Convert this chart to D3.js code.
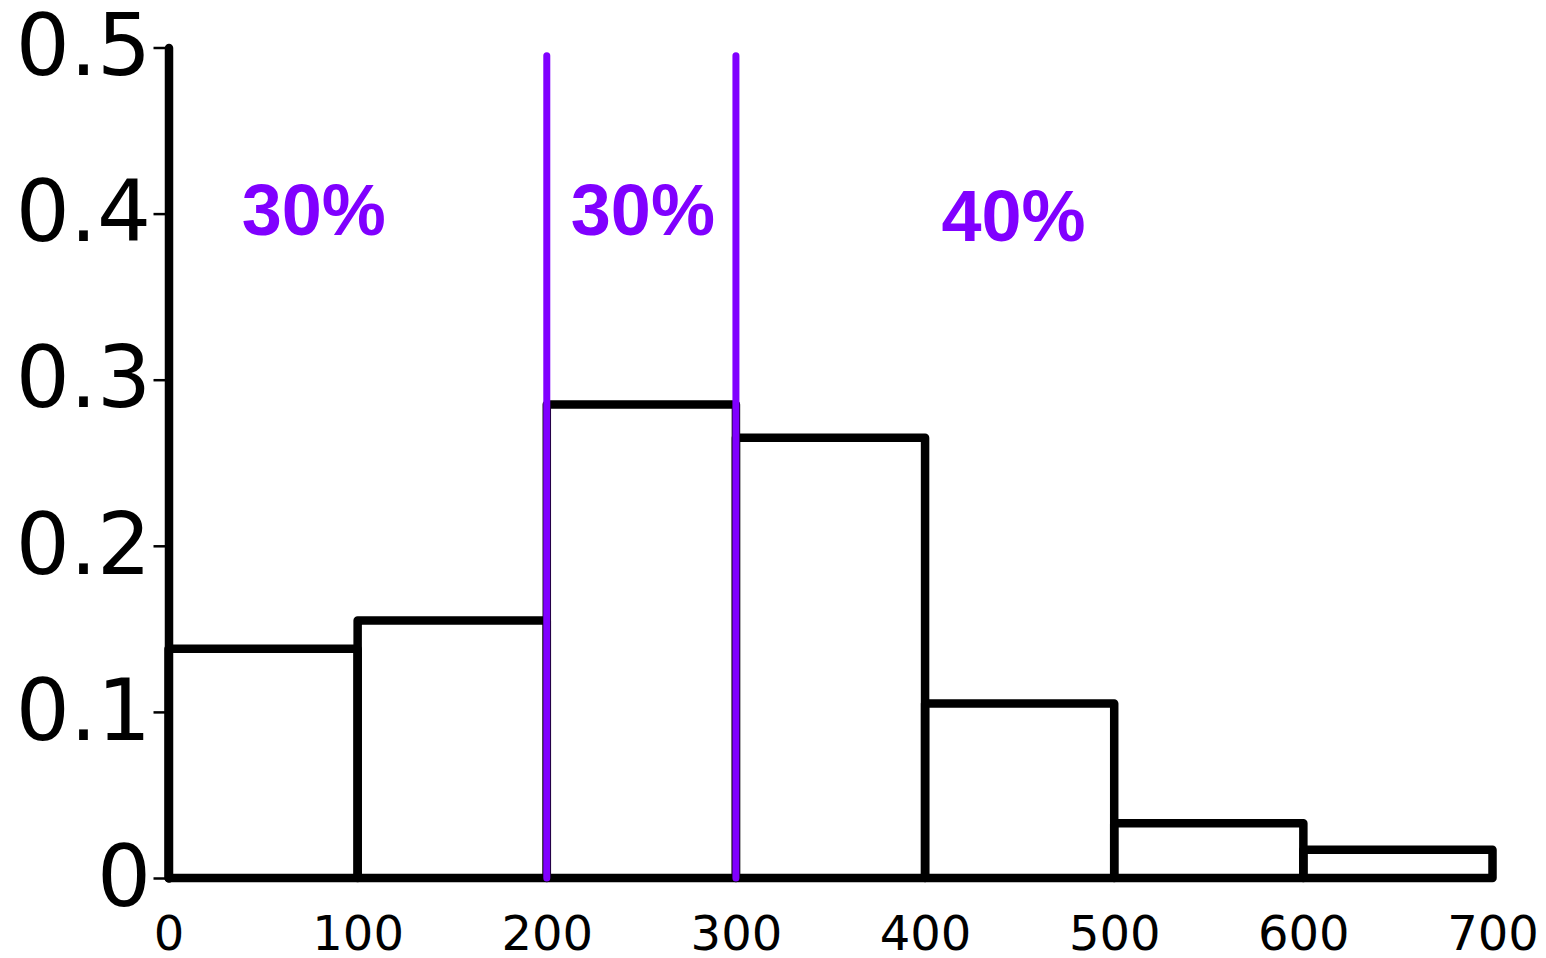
<!DOCTYPE html>
<html>
<head>
<meta charset="utf-8">
<script src="https://cdn.jsdelivr.net/npm/d3@7"></script>
<style>
  html, body { margin: 0; padding: 0; background: #fff; }
  svg { display: block; }
</style>
</head>
<body>
<svg id="chart" width="1546" height="958"></svg>
<script>
// ---- data ----
const binStarts = [0, 100, 200, 300, 400, 500, 600];
const binEnds   = [100, 200, 300, 400, 500, 600, 700];
const proportions = [0.138, 0.155, 0.285, 0.265, 0.105, 0.033, 0.017];
const cutPoints = [200, 300];
const cutTop = 0.495;
const shareLabels = ["30%", "30%", "40%"];
const shareLabelX = [76.8, 250.8, 446.8];
const shareLabelY = [0.403, 0.403, 0.399];
const xTicks = [0, 100, 200, 300, 400, 500, 600, 700];
const yTicks = [0, 0.1, 0.2, 0.3, 0.4, 0.5];

// ---- layout ----
const svg = d3.select("#chart");
const x = d3.scaleLinear().domain([0, 700]).range([168.5, 1492.5]);
const y = d3.scaleLinear().domain([0, 0.5]).range([878, 47.5]);
const purple = "#8000ff";

const bins = binStarts.map((s, i) => ({ x0: s, x1: binEnds[i], v: proportions[i] }));

// bars
svg.append("g")
  .selectAll("rect")
  .data(bins)
  .join("rect")
  .attr("x", d => x(d.x0))
  .attr("y", d => y(d.v))
  .attr("width", d => x(d.x1) - x(d.x0))
  .attr("height", d => y(0) - y(d.v))
  .attr("fill", "none")
  .attr("stroke", "#000")
  .attr("stroke-width", 8.5)
  .attr("stroke-linejoin", "round");

// y axis
const yAxis = svg.append("g")
  .attr("transform", `translate(${x(0)},0)`)
  .call(d3.axisLeft(y).tickValues(yTicks).tickSize(15).tickSizeOuter(0).tickPadding(2.5)
    .tickFormat(d => d === 0 ? "0" : d3.format(".1f")(d)));
yAxis.select(".domain")
  .attr("stroke", "#000").attr("stroke-width", 8.5).attr("stroke-linecap", "round");
yAxis.selectAll(".tick line").attr("stroke", "#000").attr("stroke-width", 2.5);
yAxis.selectAll(".tick text")
  .attr("fill", "#000")
  .style("font-family", "'DejaVu Sans', sans-serif")
  .style("font-size", "85px");

// x axis (labels only)
const xAxis = svg.append("g")
  .attr("transform", `translate(0,${y(0)})`)
  .call(d3.axisBottom(x).tickValues(xTicks).tickSize(0).tickPadding(38).tickFormat(d3.format("d")));
xAxis.select(".domain").remove();
xAxis.selectAll(".tick text")
  .attr("fill", "#000")
  .style("font-family", "'DejaVu Sans', sans-serif")
  .style("font-size", "48px");

// cut lines
svg.append("g")
  .selectAll("line")
  .data(cutPoints)
  .join("line")
  .attr("x1", d => x(d)).attr("x2", d => x(d))
  .attr("y1", y(0)).attr("y2", y(cutTop))
  .attr("stroke", purple)
  .attr("stroke-width", 7)
  .attr("stroke-linecap", "round");

// share labels
svg.append("g")
  .selectAll("text")
  .data(shareLabels)
  .join("text")
  .attr("x", (d, i) => x(shareLabelX[i]))
  .attr("y", (d, i) => y(shareLabelY[i]))
  .attr("dy", "0.36em")
  .attr("text-anchor", "middle")
  .attr("fill", purple)
  .style("font-family", "'Liberation Sans', Arial, sans-serif")
  .style("font-weight", "bold")
  .style("font-size", "72px")
  .text(d => d);
</script>
</body>
</html>
